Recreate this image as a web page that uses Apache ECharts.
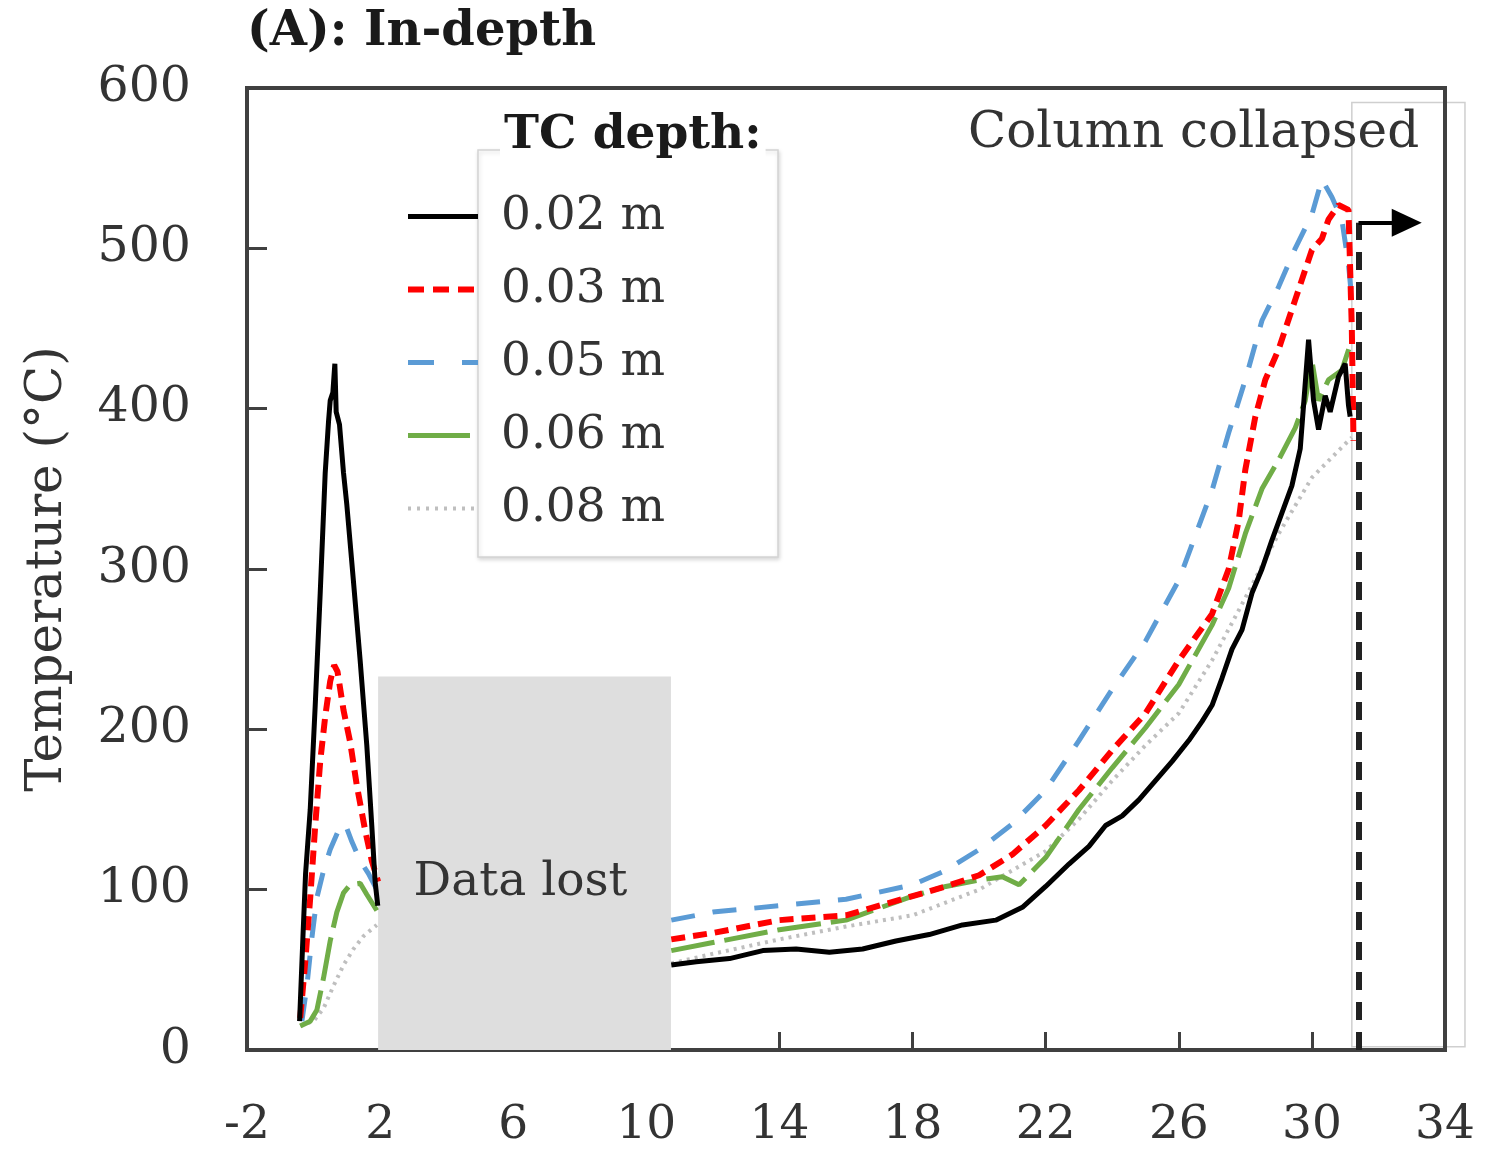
<!DOCTYPE html>
<html>
<head>
<meta charset="utf-8">
<script src="https://cdn.jsdelivr.net/npm/echarts@6/dist/echarts.min.js"></script>
<style>
  html, body { margin: 0; padding: 0; background: #fff; }
  #chart { width: 1506px; height: 1158px; }
</style>
</head>
<body>
<div id="chart"></div>
<script>
// time (x) vs temperature (y); '-' marks the data-lost gap
var tc002 = [[-0.42,18],[-0.32,70],[-0.24,110],[-0.1,150],[0.05,215],[0.2,285],[0.35,360],[0.45,392],[0.5,405],[0.58,410],[0.64,428],[0.68,398],[0.78,390],[0.9,360],[1.0,340],[1.2,292],[1.4,243],[1.6,190],[1.75,140],[1.85,105],[1.93,90],
  [6,'-'],
  [10.75,53],[11.5,55],[12.5,57],[13.5,62],[14.5,63],[15.5,61],[16.5,63],[17.5,68],[18.5,72],[19.5,78],[20.5,81],[21.3,89],[22,102],[22.7,116],[23.3,127],[23.8,140],[24.3,146],[24.8,156],[25.3,168],[25.8,180],[26.3,193],[26.7,205],[27.0,215],[27.3,232],[27.6,250],[27.9,262],[28.2,285],[28.5,300],[28.8,318],[29.1,335],[29.4,352],[29.65,375],[29.9,443],[30.05,405],[30.2,387],[30.4,408],[30.55,398],[30.8,420],[31.0,428],[31.1,402],[31.15,395]];
var tc003 = [[-0.4,20],[-0.25,55],[-0.1,95],[0.05,140],[0.2,180],[0.35,208],[0.5,230],[0.62,240],[0.72,236],[0.9,212],[1.1,192],[1.3,165],[1.55,137],[1.75,118],[1.94,105],
  [6,'-'],
  [10.75,69],[12,73],[14,81],[16,84],[18,96],[19,102],[20,109],[21,122],[22,140],[23,162],[24,187],[25,210],[26,243],[27,272],[27.5,300],[27.8,330],[28,362],[28.3,395],[28.6,418],[29,437],[29.5,468],[30,499],[30.3,506],[30.5,518],[30.8,527],[31.1,524],[31.2,450],[31.25,380]];
var tc005 = [[-0.35,18],[-0.2,40],[-0.05,70],[0.1,95],[0.3,112],[0.5,125],[0.75,137],[0.95,141],[1.15,130],[1.4,118],[1.65,110],[1.9,100],
  [6,'-'],
  [10.75,81],[12,86],[14,90],[16,94],[18,103],[19,112],[20,125],[21,141],[22,162],[23,193],[24,225],[25,255],[26,293],[27,349],[27.5,385],[28,418],[28.5,455],[29,476],[29.5,500],[30,521],[30.3,543],[30.6,532],[30.9,518],[31.1,490],[31.2,468]];
var tc006 = [[-0.4,15],[-0.1,18],[0.1,25],[0.3,45],[0.5,68],[0.7,86],[0.9,98],[1.1,103],[1.4,104],[1.6,97],[1.9,87],
  [6,'-'],
  [10.75,62],[12,67],[14,75],[16,81],[18,96],[19,102],[20,106],[20.7,108],[21.2,103],[22,120],[23,150],[24,176],[25,201],[26,228],[27,265],[27.5,288],[28,322],[28.5,350],[29,368],[29.5,388],[29.8,405],[30.0,430],[30.2,405],[30.5,418],[30.9,424],[31.2,443]];
var tc008 = [[-0.4,15],[0,18],[0.3,26],[0.6,40],[0.9,53],[1.2,63],[1.5,71],[1.9,78],
  [6,'-'],
  [10.75,54],[12,60],[14,69],[16,77],[18,84],[20,100],[21,112],[22,124],[23,144],[24,168],[25,190],[26,210],[27,243],[28,282],[29,322],[30,357],[31,378],[31.2,382]];

var names = ['0.02 m', '0.03 m', '0.05 m', '0.06 m', '0.08 m'];
var xTicks = [-2, 34, 4];   // min, max, interval
var yTicks = [0, 600, 100];
var lostArea = [1.94, 10.74, 233];   // x from, x to, top temperature
var collapseX = 31.4;
var arrowY = 516;

var serif = 'DejaVu Serif';
var axisColor = '#404040';

var chart = echarts.init(document.getElementById('chart'));

function lineSeries(name, data, color, width, dash) {
  return {
    name: name,
    type: 'line',
    data: data,
    showSymbol: false,
    symbol: 'none',
    connectNulls: false,
    z: 3,
    lineStyle: { color: color, width: width, type: dash, cap: 'butt' },
    itemStyle: { color: color },
    emphasis: { disabled: true }
  };
}

// legend samples: dash pattern as it looks in the key
var legendDash = [
  { name: names[0], lineStyle: { width: 5, type: 'solid' } },
  { name: names[1], lineStyle: { width: 6, type: [16, 9] } },
  { name: names[2], lineStyle: { width: 5, type: [26, 28] } },
  { name: names[3], lineStyle: { width: 5, type: [62, 20] } },
  { name: names[4], lineStyle: { width: 4, type: [3, 6] } }
];

chart.setOption({
  animation: false,
  backgroundColor: '#fff',
  title: {
    text: '(A): In-depth',
    left: 242, top: 4,
    textStyle: { fontFamily: serif, fontSize: 48, fontWeight: 'bold', color: '#1a1a1a' }
  },
  grid: {
    left: 247, right: 61, top: 88, bottom: 108,
    show: true, borderColor: axisColor, borderWidth: 4, backgroundColor: 'transparent'
  },
  legend: {
    data: legendDash,
    orient: 'vertical',
    left: 400, top: 188,
    itemWidth: 70, itemHeight: 20, itemGap: 26,
    itemStyle: { opacity: 0 },
    textStyle: { fontFamily: serif, fontSize: 47, color: '#333', padding: [0, 0, 0, 18] },
    selectedMode: false
  },
  xAxis: {
    type: 'value',
    min: xTicks[0], max: xTicks[1], interval: xTicks[2],
    axisLine: { onZero: false, lineStyle: { color: axisColor, width: 4 } },
    axisTick: { inside: true, length: 18, lineStyle: { color: axisColor, width: 3 } },
    axisLabel: { fontFamily: serif, fontSize: 47, color: '#333', margin: 52 },
    splitLine: { show: false }
  },
  yAxis: {
    type: 'value',
    min: yTicks[0], max: yTicks[1], interval: yTicks[2],
    name: 'Temperature (°C)',
    nameLocation: 'middle', nameGap: 174,
    nameTextStyle: { fontFamily: serif, fontSize: 50, color: '#333' },
    axisLine: { onZero: false, lineStyle: { color: axisColor, width: 4 } },
    axisTick: { inside: true, length: 20, lineStyle: { color: axisColor, width: 3 } },
    axisLabel: { fontFamily: serif, fontSize: 49, color: '#333', margin: 56 },
    splitLine: { show: false }
  },
  series: [
    {
      name: 'annot', type: 'line', data: [], silent: true, z: 1,
      markArea: {
        silent: true,
        itemStyle: { color: '#dedede' },
        label: {
          show: true, position: 'inside', formatter: 'Data lost',
          fontFamily: serif, fontSize: 47, color: '#333', offset: [-4, 20]
        },
        data: [[{ coord: [lostArea[0], 0] }, { coord: [lostArea[1], lostArea[2]] }]]
      }
    },
    lineSeries(names[4], tc008, '#bfbfbf', 4, [3, 5]),
    lineSeries(names[3], tc006, '#70ad47', 5, [44, 10]),
    lineSeries(names[2], tc005, '#5b9bd5', 5, [24, 18]),
    lineSeries(names[1], tc003, '#ff0000', 6, [14, 8]),
    lineSeries(names[0], tc002, '#000000', 5, 'solid'),
    {
      name: 'collapse', type: 'line', data: [], silent: true, z: 5,
      markLine: {
        silent: true, animation: false,
        label: { show: false },
        emphasis: { disabled: true },
        data: [
          [{ coord: [collapseX, 0], symbol: 'none', lineStyle: { color: '#222', width: 6, type: [18, 12] } },
           { coord: [collapseX, arrowY], symbol: 'none' }],
          [{ coord: [collapseX, arrowY], symbol: 'none', lineStyle: { color: '#000', width: 4, type: 'solid' } },
           { coord: [32.85, arrowY], symbol: 'triangle', symbolSize: [28, 30] }]
        ]
      }
    }
  ]
});

// legend frame, legend title, side frame and collapse note
var p0 = chart.convertToPixel({ gridIndex: 0 }, [31.2, 591]);
var p1 = chart.convertToPixel({ gridIndex: 0 }, [34.6, 2]);
chart.setOption({
  graphic: [
    { type: 'rect', z: -1, shape: { x: p0[0], y: p0[1], width: p1[0] - p0[0], height: p1[1] - p0[1] },
      style: { fill: 'none', stroke: '#cfcfcf', lineWidth: 1.5 }, silent: true },
    { type: 'rect', z: 0, shape: { x: 478, y: 150, width: 300, height: 407 },
      style: { fill: '#fff', stroke: '#d4d4d4', lineWidth: 1.5, shadowBlur: 4, shadowColor: 'rgba(0,0,0,0.15)', shadowOffsetX: 1, shadowOffsetY: 2 }, silent: true },
    { type: 'text', z: 10, left: 500, top: 112,
      style: { text: 'TC depth:', fontFamily: serif, fontSize: 47, fontWeight: 'bold', fill: '#1a1a1a', backgroundColor: '#fff', padding: [0, 4, 0, 4] } },
    { type: 'text', z: 10, left: 968, top: 109,
      style: { text: 'Column collapsed', fontFamily: serif, fontSize: 50, fill: '#333' } }
  ]
});
</script>
</body>
</html>
